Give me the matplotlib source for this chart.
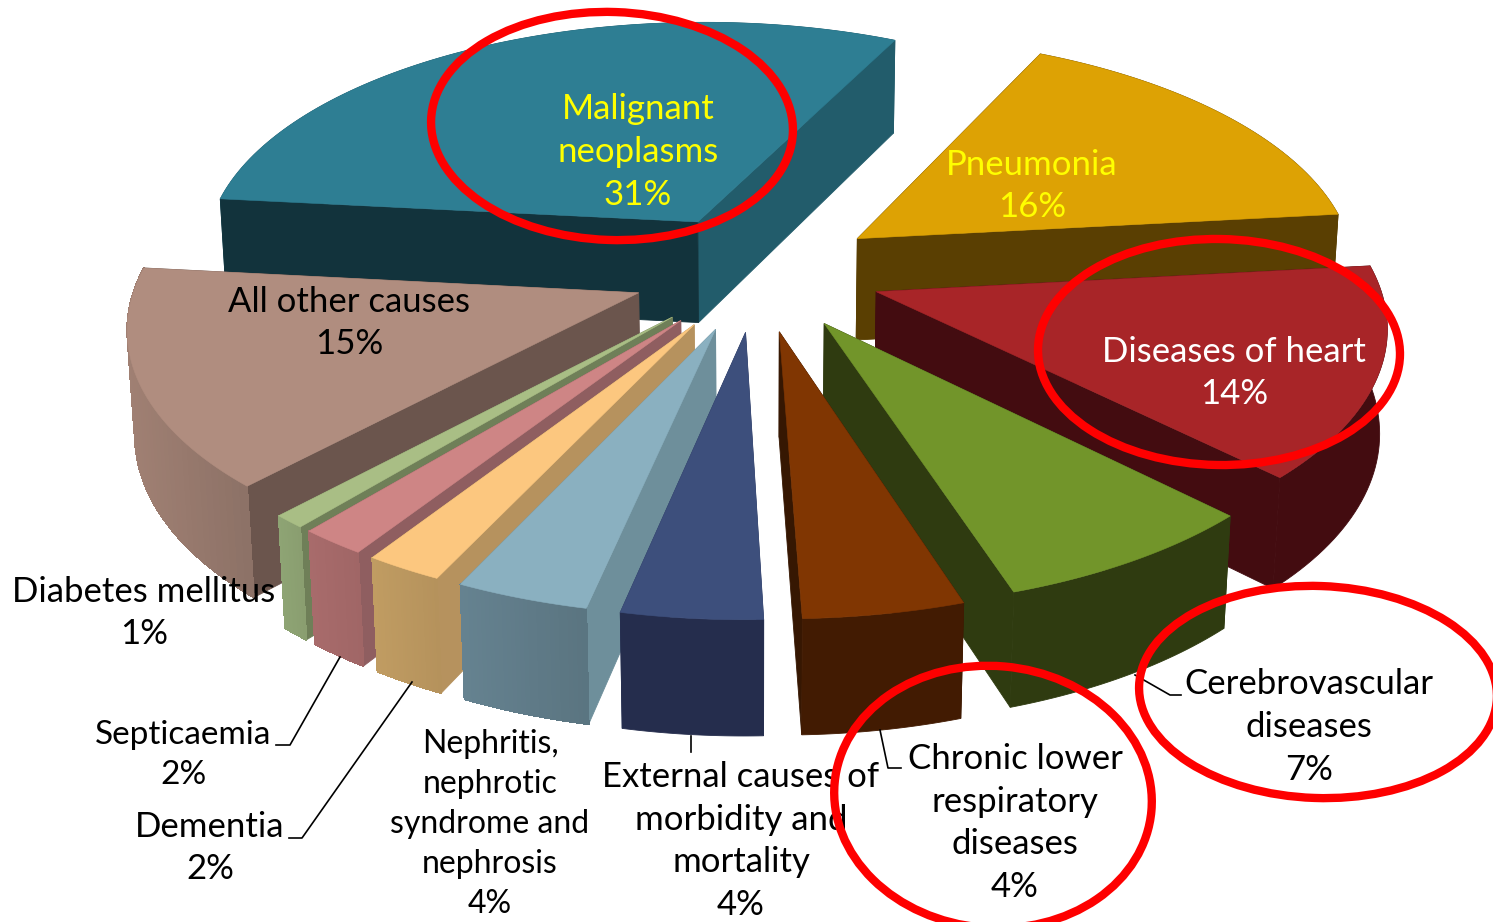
import numpy as np
import matplotlib
matplotlib.use("Agg")
import matplotlib.colors as mcolors
from matplotlib import pyplot as plt
from matplotlib.patches import Ellipse, Polygon

plt.rcParams['font.family'] = ['Lato', 'DejaVu Sans']

# data, clockwise from the left edge of the biggest slice
causes = ["Malignant\nneoplasms", "Pneumonia", "Diseases of heart", "Cerebrovascular\ndiseases",
          "Chronic lower\nrespiratory\ndiseases", "External causes of\nmorbidity and\nmortality",
          "Nephritis,\nnephrotic\nsyndrome and\nnephrosis", "Dementia", "Septicaemia",
          "Diabetes mellitus", "All other causes"]
# slice sizes, the labels show them rounded
shares = [30.5, 16.1, 14.2, 7.53, 4.47, 3.9, 3.7, 2.15, 1.85, 0.9, 14.7]
percent_labels = ["31%", "16%", "14%", "7%", "4%", "4%", "4%", "2%", "2%", "1%", "15%"]

top_colors = ['#2E7E93', '#DDA204', '#A82528', '#72952A', '#803602', '#3D4F7C',
              '#8AB0C0', '#FCC77F', '#CE8585', '#A9BE85', '#B08D7F']
side_colors = ['#12333C', '#5A3F02', '#430C10', '#2F3B10', '#361702', '#2F3D62',
               '#6E8F9B', '#B6925E', '#8F5E60', '#6F7F58', '#6B554D']
arc_left = ['#215B6B', '#5A3F02', '#430C10', '#2F3B10', '#421B02', '#252D4D',
            '#658290', '#C09C62', '#A86B6B', '#8EA474', '#A08073']
arc_right = ['#215B6B', '#5A3F02', '#430C10', '#2F3B10', '#421B02', '#252D4D',
             '#5A7480', '#B5925C', '#A06666', '#8A9E70', '#8C7166']
right_wall = '#225C6B'

# pie geometry in pixels
CX, CY, SX, SY = 757, 272, 500, 235.6
PERSP, EXPLODE, DEPTH, SHRINK = 0.123, 0.25, 104, 0.012
START = 174
# painter's order, back to front
draw_order = [0, 1, 2, 10, 9, 8, 7, 6, 5, 3, 4]


def project(u, v, z=0.0):
    w = 1 + PERSP * v + SHRINK * z
    return CX + SX * u / w, CY - SY * v / w + DEPTH * z / w


def wall(pts_a, pts_b):
    return [project(*pts_a), project(*pts_b), project(*pts_b, 1.0), project(*pts_a, 1.0)]


fig = plt.figure(figsize=(14.93, 9.22), dpi=100)
ax = fig.add_axes([0, 0, 1, 1])
ax.set_xlim(0, 1493)
ax.set_ylim(922, 0)
ax.axis('off')

ends = START - np.cumsum(shares) * 3.6
starts = ends + np.array(shares) * 3.6

for n, i in enumerate(draw_order):
    a0, a1 = np.radians(starts[i]), np.radians(ends[i])
    mid = (a0 + a1) / 2
    ou, ov = EXPLODE * np.cos(mid), EXPLODE * np.sin(mid)
    angles = np.linspace(a0, a1, max(int(shares[i] * 3), 30))
    us = ou + np.cos(angles)
    vs = ov + np.sin(angles)
    base = 10 + n * 10

    # walls sorted far to near, so the hidden ones end up covered
    walls = [((ov + vs[0]) / 2, wall((ou, ov), (us[0], vs[0])), side_colors[i], True)]
    end_color = right_wall if i == 0 else side_colors[i]
    walls.append(((ov + vs[-1]) / 2, wall((ou, ov), (us[-1], vs[-1])), end_color, True))
    if arc_left[i] == arc_right[i]:
        lower = [project(a, b, 1.0) for a, b in zip(us, vs)]
        upper = [project(a, b) for a, b in zip(us, vs)]
        walls.append((vs.mean(), upper + lower[::-1], arc_left[i], True))
    else:
        left, right = np.array(mcolors.to_rgb(arc_left[i])), np.array(mcolors.to_rgb(arc_right[i]))
        xs = project(us, vs)[0]
        for j in range(len(angles) - 1):
            t = (min(xs[j], xs[j + 1]) - xs.min()) / np.ptp(xs)
            walls.append(((vs[j] + vs[j + 1]) / 2, wall((us[j], vs[j]), (us[j + 1], vs[j + 1])),
                          left * (1 - t) + right * t, False))
    for _, pts, color, smooth in sorted(walls, key=lambda item: -item[0]):
        ax.add_patch(Polygon(pts, closed=True, fc=color, ec=color, lw=0.6, antialiased=smooth, zorder=base))

    top = [project(ou, ov)] + [project(a, b) for a, b in zip(us, vs)]
    ax.add_patch(Polygon(top, closed=True, fc=top_colors[i], ec=top_colors[i], lw=0.4, zorder=base + 1))

# labels: centre x, centre y, colour, size, line spacing
label_x = [638, 1032, 1234, 1309, 1015, 741, 490, 210, 183, 144, 349]
label_y = [152, 186, 373, 727, 823, 841, 824, 848, 755, 613, 323]
label_color = ['#FFFF00', '#FFFF00', 'white'] + ['black'] * 8
label_size = [25, 25, 25, 25, 25, 25, 23, 25, 24, 25, 25]
label_spacing = [1.42, 1.42, 1.42, 1.42, 1.42, 1.42, 1.42, 1.36, 1.42, 1.42, 1.42]
for i in range(len(causes)):
    ax.text(label_x[i], label_y[i], f"{causes[i]}\n{percent_labels[i]}", ha='center', va='center',
            fontsize=label_size[i], color=label_color[i], linespacing=label_spacing[i], zorder=200)

# leader lines
leaders = [([340, 290, 276], [657, 745, 745]),
           ([412, 302, 289], [682, 838, 838]),
           ([691, 691], [736, 752]),
           ([880, 888, 901], [730, 768, 768]),
           ([1135, 1170, 1181], [675, 695, 695])]
for xs, ys in leaders:
    ax.plot(xs, ys, color='black', lw=1.2, zorder=190)

# the red highlight rings sit above everything
rings = [(612, 126, 362, 228, 2), (1219, 352, 362, 226, 1), (1318, 692, 358, 212, 2), (993, 797, 318, 262, 5)]
for x, y, w, h, ang in rings:
    ax.add_patch(Ellipse((x, y), w, h, angle=ang, fill=False, ec='#FE0000', lw=6, zorder=300))

fig.savefig('out.png', dpi=100)
plt.close()
